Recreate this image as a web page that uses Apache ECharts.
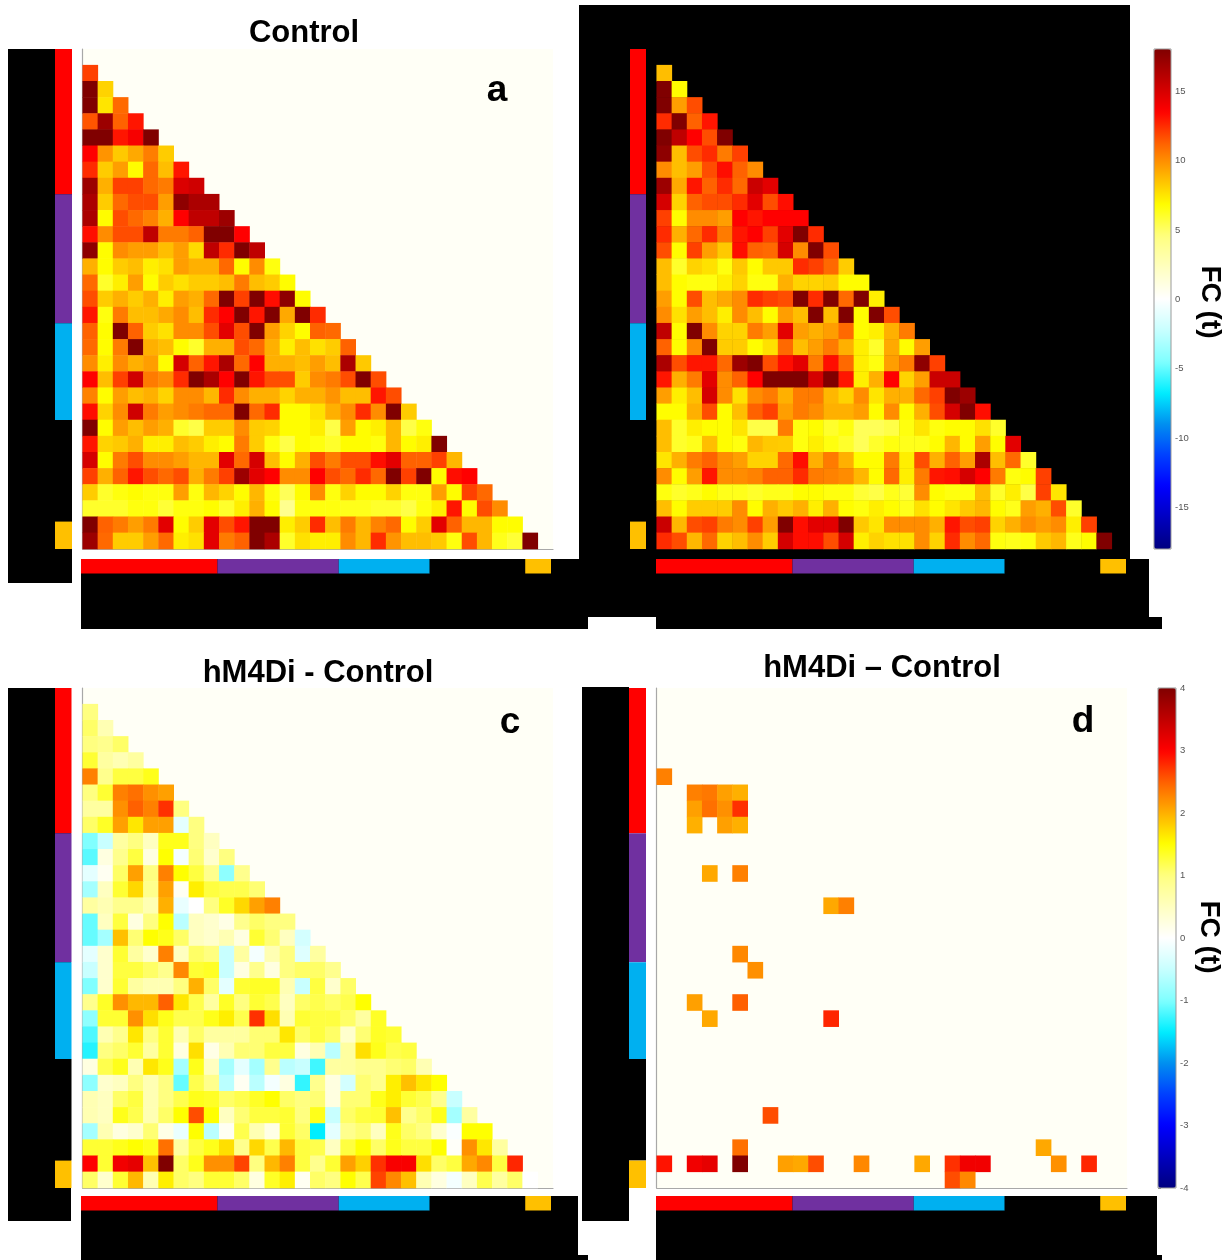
<!DOCTYPE html>
<html><head><meta charset="utf-8">
<script src="https://cdn.jsdelivr.net/npm/echarts@6/dist/echarts.min.js"></script>
<style>html,body{margin:0;padding:0;background:#fff}#c{width:1229px;height:1260px}</style>
</head><body><div id="c"></div>
<script>
// ---------- DATA ----------
// node categories (31 regions)
const nodes = ['1','2','3','4','5','6','7','8','9','10','11','12','13','14','15','16','17','18','19','20','21','22','23','24','25','26','27','28','29','30','31'];
// module labels along the matrix edge (extent of each module, in nodes, as drawn)
const moduleSizes = [9, 8, 6, 6.3, 1.7];
const moduleColors = ['#FF0000', '#7030A0', '#00B0F0', '#000000', '#FFC000'];
// colour bar ticks
const ticksTop = [-15, -10, -5, 0, 5, 10, 15];
const ticksBottom = [-4, -3, -2, -1, 0, 1, 2, 3, 4];

// Panel a (Control), lower triangle rows (row i has columns 0..i-1)
const rowsA = [
 [],
 [12],
 [18, 8],
 [18, 7.5, 11],
 [11.5, 17, 11.2, 13],
 [18, 18, 13, 13.8, 18],
 [13.5, 9.8, 8.3, 9.2, 10.4, 8.2],
 [12.5, 8.2, 9.5, 6.8, 11, 8.6, 13],
 [17, 9, 12, 12, 11, 10.5, 14.8, 15.2],
 [16.5, 8.2, 11, 11.7, 11.7, 9.5, 17.5, 16.5, 16.5],
 [16.5, 6.8, 11.7, 11, 10.3, 9, 13.5, 15.8, 15.8, 17],
 [13.2, 10, 11.7, 11.7, 15.8, 10.5, 10.5, 11.2, 18, 18, 13.5],
 [17.5, 6.8, 10, 9.5, 9.5, 8.6, 9.5, 7.8, 15.8, 12.5, 18, 15.8],
 [9, 6.8, 8.2, 8.6, 7.2, 7.6, 9.5, 9, 9, 11, 6.8, 10, 6.5],
 [11, 6, 7.2, 9.5, 6.8, 8.2, 7.6, 8.2, 8.2, 8.6, 10.5, 8.6, 8.2, 6.8],
 [11.7, 8.2, 9, 8.2, 9, 7.2, 9.5, 9, 11, 18, 12, 18, 13.2, 17.5, 6.8],
 [13, 6.5, 10.5, 8.6, 8.6, 9.2, 10, 8.6, 12.5, 13.5, 18, 13, 18, 9.2, 18, 12.5],
 [11.2, 6.8, 18, 11.2, 8.2, 7.6, 10, 10, 11.7, 14.5, 11.7, 18, 9.5, 8, 6.8, 11.2, 11],
 [11, 6.8, 10.5, 18, 9, 8.6, 6.8, 6, 9, 9, 11.7, 11, 9, 7.2, 8.6, 7.6, 8.2, 11.2],
 [10, 7.2, 10, 9, 9.5, 6.8, 15, 11.2, 13, 16.5, 11, 13.5, 9, 9, 8.6, 9.5, 8.6, 16.5, 8.3],
 [13.5, 8.6, 12, 15.2, 10.5, 10, 12.5, 18, 16.5, 13.5, 18, 13, 11.7, 11.7, 8.2, 10, 10.5, 11.7, 18, 11.7],
 [10.3, 6.8, 9.5, 8.6, 9, 8, 10, 10, 8.8, 12.5, 10, 9, 9, 8, 9, 9, 9.8, 8.6, 8.6, 13, 11.7],
 [13.2, 8, 10, 15.2, 10.5, 9.5, 10, 10.5, 11, 11, 18, 11, 12.5, 6.8, 6.8, 7.6, 9, 10, 12.5, 10, 18, 8.2],
 [18, 6.8, 9.5, 8.6, 9.5, 9, 6, 5.5, 8.2, 8.2, 10, 8.2, 8, 6.8, 6.8, 7.2, 5.5, 9.5, 6.8, 7.2, 8.8, 5.5, 6.5],
 [13, 8, 8.3, 9, 7.2, 7.2, 8.6, 8.2, 7.2, 6.8, 10.5, 8.2, 6.5, 5.5, 6.8, 6.5, 6, 6.8, 6.8, 6.5, 8.8, 6.8, 7.2, 18],
 [15, 6.8, 10.5, 11.7, 10, 10, 9.5, 8.8, 8.8, 14.5, 11, 15, 8.6, 6.8, 9, 11.7, 10.5, 11.7, 11.7, 13.2, 14.5, 11.2, 11.2, 12, 8.8],
 [12, 9, 11.2, 13, 11.7, 11, 11.7, 9, 10.5, 12, 17, 14.5, 13.5, 10, 10, 13.5, 11.7, 11, 12.5, 11, 18, 12, 18, 6.8, 13.2, 13.5],
 [8.2, 6, 6.5, 6.8, 6.5, 6.5, 9.5, 6.5, 8.8, 8, 6.8, 8.8, 6.5, 5.2, 6.8, 10, 6.5, 8, 6.8, 6.8, 8, 6.5, 6.5, 9.5, 6.8, 12, 11],
 [6, 6, 6, 6.5, 6.5, 5.8, 6.5, 6.5, 6.8, 6, 7.2, 9, 6.8, 4, 6.5, 6.5, 6.5, 6.3, 6.3, 6, 6, 5.5, 6.5, 7.2, 13, 6.8, 11.7, 10],
 [18, 11.2, 10.5, 9.5, 10.5, 14.5, 6.8, 8.2, 14.5, 11.7, 13, 18, 18, 7.2, 8.2, 12.5, 8.6, 10.5, 8.8, 10.3, 11, 6.8, 8.2, 14.5, 11.2, 8.8, 8.8, 6.8, 6.8],
 [17, 11, 8.2, 8.2, 9.5, 11, 7.2, 7.6, 14.5, 10.5, 11.2, 18, 16.5, 6, 7.6, 7.2, 7.2, 10, 8.8, 12.5, 9.8, 8.6, 8.6, 8.3, 6.5, 11.7, 8.8, 6.3, 5.8, 18]
];

// Panel b (hM4Di), lower triangle rows
const rowsB = [
 [],
 [8.6],
 [18, 6.8],
 [18, 9.5, 11.7],
 [12.5, 18, 11.2, 13],
 [18, 15.8, 13.5, 11.7, 18],
 [17.5, 8.6, 11.7, 12.5, 10.5, 12],
 [10, 8.6, 9.5, 11.7, 13.2, 11.2, 10],
 [17, 9.2, 13, 11.2, 12.5, 11, 15.4, 14.5],
 [15, 8, 11.2, 11.7, 11.7, 12.5, 14.5, 11.7, 13.2],
 [12, 6.8, 10, 10, 9.5, 13.5, 13, 13.5, 13.5, 13.5],
 [12.5, 9, 11, 12.5, 10.5, 13, 13.5, 12, 14.5, 18, 12.5],
 [11.7, 6.8, 12, 9.5, 8.3, 13.2, 11.2, 11, 15, 10, 18, 11.7],
 [8.6, 6, 8, 7.6, 6.5, 8.3, 6.8, 8.3, 8.3, 12.5, 12, 11, 8.2],
 [8.6, 6.8, 6.5, 6.5, 7.2, 8, 6.5, 6.5, 9, 8, 8, 8.2, 6.8, 6.8],
 [9.5, 6.8, 11.7, 8.6, 9.2, 10, 12.5, 12, 11.7, 18, 12.5, 18, 11, 18, 7.2],
 [10, 7.6, 9.5, 8.6, 7.2, 10, 8.6, 6.8, 9.5, 8.6, 18, 8.6, 18, 6.8, 18, 11.7],
 [15.8, 6.8, 18, 10, 8, 8, 10.5, 9.5, 14.5, 9.5, 9, 9.5, 11, 6.8, 7.2, 9, 10.5],
 [11.2, 6.8, 10, 18, 8.2, 8.2, 6.8, 7.6, 11, 8.6, 9.5, 10.5, 9, 7.2, 6, 9.2, 6.8, 9.5],
 [16.5, 11.7, 13, 13, 11, 17, 18, 11.7, 13.2, 14.5, 10.5, 13.2, 11, 7.2, 6.5, 9.5, 10.5, 17.5, 12],
 [13, 9, 10.5, 14.5, 10, 11.2, 13.5, 18, 18, 18, 15, 18, 13, 7.2, 9, 13.5, 8, 9.5, 15.4, 15.4],
 [9.5, 7.2, 8.6, 15, 10, 7.6, 10, 10.5, 9, 10.5, 10.5, 8.8, 8, 10, 7.5, 9, 9, 11, 12, 18, 17],
 [6.8, 6.8, 9, 11.7, 6.8, 8.6, 11.2, 12, 9.5, 10.5, 10, 9, 9, 9.5, 6.8, 10, 6.8, 9, 11.7, 15, 18, 13.2],
 [8.6, 6, 7.2, 6.8, 6.8, 7.5, 5.5, 5.5, 10.5, 6.5, 6.8, 6, 6.5, 5.2, 5.2, 5.5, 6.5, 7.5, 6.5, 6.8, 6.8, 7.6, 6],
 [8.6, 6, 6.3, 8.6, 6.8, 6.5, 8.8, 8.3, 8.2, 6.5, 7.2, 6.5, 6, 5.2, 6, 6.5, 6.3, 6.3, 6.8, 8.8, 6.8, 9.5, 6.8, 14.5],
 [7.5, 9, 10.5, 11.2, 10, 9.5, 8, 8, 11, 13.2, 9, 10.5, 9, 6.8, 6.8, 10.5, 7.2, 11.7, 9, 11.2, 9.5, 16.5, 8.6, 11, 6],
 [10, 6.8, 9.5, 13, 10, 10, 10.3, 11.2, 11.2, 12.5, 10.5, 10.3, 10, 8.8, 6.8, 11, 7.2, 10.5, 13, 13.2, 15, 13.5, 10.5, 6.5, 6.8, 12],
 [6.5, 6, 6.3, 6.8, 6.3, 6.3, 6, 6.3, 6.3, 6.8, 6.8, 6.5, 6.5, 5.8, 5.5, 6.3, 5.8, 10, 6.8, 6.5, 6.5, 8.6, 6, 7.2, 5.5, 12, 7.5],
 [8.6, 6.8, 8.2, 8.2, 8.2, 10, 6.8, 9, 8.3, 9, 7.2, 9, 6.8, 6.5, 7.2, 6.8, 6.3, 7.6, 6.8, 7.5, 8.3, 8.8, 6.8, 6.3, 9.5, 9, 11.7, 6],
 [15.4, 8.8, 11.7, 12, 10.5, 10, 12, 9.5, 18, 13.2, 14.5, 14.5, 18, 8.3, 7.5, 10, 10, 10, 9, 13, 11.7, 12, 8, 9, 10, 9.5, 10, 7.2, 12],
 [12.5, 11.7, 8.8, 11, 8, 8.6, 10, 8.2, 15, 13.2, 13.2, 11.7, 15, 7.2, 8, 7.6, 7.6, 10, 8, 12.5, 10, 11, 6.5, 6.3, 6.5, 8.3, 8.8, 6.3, 6.8, 18]
];

// Panel c (hM4Di - Control difference), lower triangle rows
const rowsC = [
 [],
 [1.0],
 [1.1, 0.6],
 [1.0, 0.9, 1.1],
 [1.3, 0.75, 0.6, 0.75],
 [2.3, 0.9, 1.25, 1.25, 1.4],
 [1.0, 1.3, 2.3, 2.4, 2.2, 2.1],
 [0.75, 0.75, 2.2, 2.5, 2.3, 2.75, 1.0],
 [1.1, 1.35, 2.1, 1.65, 2.1, 2.1, -0.25, 1.0],
 [-1.0, -0.5, 0.75, 1.0, 0.5, 1.4, 1.4, 1.0, 0.5],
 [-1.15, 0.25, 0.9, 1.25, 0.25, 1.5, -0.1, 1.05, 0.4, 1.0],
 [-0.25, 0.1, 1.1, 2.1, 1.0, 2.3, 1.5, 1.25, 0.9, -0.9, 0.9],
 [-0.75, 0.5, 1.3, 1.75, 0.9, 2.1, 0.1, 1.6, 1.25, 1.2, 1.2, 1.05],
 [0.75, 0.6, 0.9, 0.9, 0.6, 2.0, -0.2, 0, 1.0, 1.35, 1.75, 2.1, 2.3],
 [-1.1, 0.5, 1.25, 0.25, 1.0, 1.5, -0.6, 0.5, 0.4, 0.2, 0.9, 1.1, 1.0, 1.0],
 [-1.1, -0.75, 1.9, 1.05, 1.5, 1.4, 1.1, 0.5, 0.4, 0.6, 0.25, 1.3, 1.05, 0.5, -0.4],
 [-0.25, 0.4, 1.3, 0.75, 0.4, 2.3, 0.5, 1.1, 1.0, -0.5, 0.75, -0.1, 0.6, 1.0, -0.3, 0.75],
 [-0.5, 0.4, 1.25, 1.25, 1.1, 0.9, 2.25, 1.3, 1.35, -0.5, 0.25, 0.9, 0.25, 1.0, 1.1, 1.1, 0.9],
 [-1.0, 0.4, 1.3, 0.75, 0.6, 0.6, 1.0, 2.0, 1.1, -0.25, 1.3, 1.35, 1.35, 0.6, -0.5, 1.25, 0.4, 1.1],
 [0.9, 1.35, 2.2, 1.95, 1.95, 2.5, 1.65, 1.2, 0.75, 1.35, 1.0, 1.3, 1.2, 0.5, 1.1, 1.2, 1.1, 1.2, 1.5],
 [-0.9, 1.3, 1.3, 2.2, 1.7, 1.4, 1.2, 1.2, 1.4, 1.6, 1.2, 2.75, 1.7, 0.6, 1.3, 1.25, 1.25, 1.1, 0.75, 1.35],
 [-1.2, 0.6, 0.9, 1.65, 1.0, 1.3, 0.6, 1.1, 0.75, 0.75, 0.75, 1.05, 1.05, 1.65, 1.1, 1.25, 1.1, 0.4, 1.05, 1.35, 1.3],
 [-1.35, 1.0, 1.1, 1.3, 0.75, 1.3, 0.25, 1.7, 0.2, 0.6, 1.05, 1.05, 1.25, 1.25, 0.25, 0.6, -0.6, 0.75, 1.7, 1.4, 1.2, 1.25],
 [0.25, 1.2, 1.4, 0.6, 1.65, 1.4, -0.75, 1.4, 0.5, -0.75, -0.25, -0.75, 0.9, -0.6, -0.5, -1.25, 0.75, 0.75, 0.9, 0.9, 1.05, 1.1, 0.6],
 [-0.9, 0.4, 0.5, 1.0, 0.6, 1.0, -1.1, 1.2, 0.9, -0.6, 0.1, -0.6, -0.1, 0.25, -1.3, 0.9, 0.25, -0.4, 1.05, 0.9, 1.6, 1.9, 1.65, 1.5],
 [0.6, 0.5, 1.1, 1.25, 0.6, 1.0, 1.2, 1.4, 1.35, 1.1, 1.2, 1.35, 1.5, 1.1, 1.0, 1.05, 0.25, 1.05, 1.05, 1.4, 1.6, 1.3, 1.2, 0.9, -0.5],
 [0.6, 0.5, 1.4, 1.2, 0.6, 1.1, 1.5, 2.6, 1.5, 0.5, 1.05, 1.25, 1.25, 1.3, 1.0, 1.4, -0.5, 1.1, 1.25, 1.3, 1.9, 0.9, 1.1, 1.4, -0.75, 0.75],
 [-0.75, 0.6, 0.25, 0.4, 1.05, 0.2, -0.2, 1.5, -0.6, 0.1, 1.2, 0.6, 0.2, 1.3, 1.1, -1.5, -0.25, 0.9, 1.05, 0.5, 1.4, 1.1, 1.0, 0.4, -0.05, 1.5, 1.5],
 [1.3, 1.3, 1.4, 1.5, 1.4, 2.4, 0.75, 1.25, 1.4, 1.7, 0.9, 1.75, 1.2, 1.95, 1.25, 1.2, 0.5, 1.25, 1.5, 1.1, 1.4, 1.25, 1.25, 1.5, 0.05, 2.2, 1.65, 0.75],
 [3.0, 1.3, 3.1, 3.2, 1.9, 4.0, 1.1, 1.4, 2.2, 2.2, 2.65, 1.0, 1.95, 2.3, 1.25, 0.9, 1.3, 2.1, 1.8, 2.75, 3.05, 3.05, 1.7, 1.1, 1.25, 2.05, 2.25, 1.25, 2.8],
 [1.1, 0.4, 1.3, 1.95, 0.6, 1.6, 1.1, 1.0, 1.3, 1.3, 1.1, 0.25, 1.35, 1.6, 0.1, 1.1, 1.0, 1.5, 1.2, 2.65, 2.25, 1.9, 0.6, 0.25, -0.1, 0.5, 1.2, 0.75, 1.1, 0]
];

// Panel d (significant differences only): [row, col, t]
const sigD = [
 [5,0,2.3],[6,2,2.3],[6,3,2.35],[6,4,2.1],[6,5,2.0],[7,2,2.1],[7,3,2.4],[7,4,2.2],[7,5,2.75],
 [8,2,2.0],[8,4,2.1],[8,5,2.0],[11,3,2.05],[11,5,2.3],[13,11,2.05],[13,12,2.3],[16,5,2.25],
 [17,6,2.2],[19,2,2.1],[19,5,2.5],[20,3,2.05],[20,11,2.8],[26,7,2.6],[28,5,2.4],[28,25,2.05],
 [29,0,2.9],[29,2,3.1],[29,3,3.2],[29,5,4.0],[29,8,2.1],[29,9,2.05],[29,10,2.6],[29,13,2.25],
 [29,17,2.05],[29,19,2.75],[29,20,3.1],[29,21,3.1],[29,26,2.2],[29,28,2.8],[30,19,2.6],[30,20,2.25]
];

// colour map (cold-hot)
const fcColors = ['#000080','#0000C0','#0000FF','#0040FF','#0090F0','#00EEFF','#80FFFF','#C8FFFF','#FFFFFF',
                  '#FFFFC0','#FFFF80','#FFFF00','#FFB000','#FF6000','#FF0000','#C00000','#800000'];

// ---------- BUILD ----------
function toCells(rows) {
  const out = [];
  rows.forEach((r, i) => r.forEach((v, j) => out.push([j, i, v])));
  return out;
}
const cellsD = sigD.map(d => [d[1], d[0], d[2]]);

const panels = [
  { left: 82.7, top: 49, bg: '#FFFFF6', axis: true, sL: 55, sLW: 17, sBL: 81, sBT: 559, data: toCells(rowsA) },
  { left: 656.7, top: 49, bg: '#000000', axis: false, sL: 630, sLW: 16, sBL: 656, sBT: 559, data: toCells(rowsB) },
  { left: 82.7, top: 688, bg: '#FFFFF6', axis: true, sL: 55, sLW: 16.5, sBL: 81, sBT: 1196, data: toCells(rowsC) },
  { left: 656.7, top: 688, bg: '#FFFFF6', axis: true, sL: 629, sLW: 17, sBL: 656, sBT: 1196, data: cellsD }
];
const PW = 470.3, PH = 500;

const grid = [], xAxis = [], yAxis = [], series = [];
const hidden = { show: false };
panels.forEach((p, k) => {
  const g0 = grid.length;
  grid.push({ left: p.left, top: p.top, width: PW, height: PH, show: true, backgroundColor: p.bg, borderWidth: 0 });
  grid.push({ left: p.sL, top: p.top, width: p.sLW, height: PH });
  grid.push({ left: p.sBL, top: p.sBT, width: 470, height: 14.5 });
  const axLine = { show: p.axis, lineStyle: { color: '#A8A8A8', width: 1.2 } };
  xAxis.push({ type: 'category', gridIndex: g0, data: nodes, axisLine: axLine, axisTick: hidden, axisLabel: hidden, splitLine: hidden });
  yAxis.push({ type: 'category', gridIndex: g0, data: nodes, inverse: true, axisLine: axLine, axisTick: hidden, axisLabel: hidden, splitLine: hidden });
  xAxis.push({ type: 'category', gridIndex: g0 + 1, data: ['m'], show: false });
  yAxis.push({ type: 'value', gridIndex: g0 + 1, min: 0, max: 31, inverse: true, show: false });
  xAxis.push({ type: 'value', gridIndex: g0 + 2, min: 0, max: 31, show: false });
  yAxis.push({ type: 'category', gridIndex: g0 + 2, data: ['m'], show: false });
});
// colour bar tick axes
const cbAxes = [
  { left: 1154, top: 91.3, width: 17, height: 416.2, min: ticksTop[0], max: ticksTop[ticksTop.length - 1], interval: 5 },
  { left: 1158, top: 688, width: 18, height: 500, min: ticksBottom[0], max: ticksBottom[ticksBottom.length - 1], interval: 1 }
];
cbAxes.forEach(c => {
  const gi = grid.length;
  grid.push({ left: c.left, top: c.top, width: c.width, height: c.height });
  xAxis.push({ type: 'value', gridIndex: gi, show: false, min: 0, max: 1 });
  yAxis.push({ type: 'value', gridIndex: gi, min: c.min, max: c.max, interval: c.interval, position: 'right',
    axisLine: hidden, splitLine: hidden,
    axisTick: { show: true, length: 3, lineStyle: { color: '#888', width: 1 } },
    axisLabel: { show: true, fontSize: 9.5, color: '#555', margin: 4, fontFamily: 'Liberation Sans, Arial, sans-serif' } });
  series.push({ type: 'scatter', xAxisIndex: xAxis.length - 1, yAxisIndex: yAxis.length - 1, data: [], silent: true });
});

const heatSeries = panels.map((p, k) => ({
  type: 'heatmap', xAxisIndex: k * 3, yAxisIndex: k * 3, data: p.data,
  itemStyle: { borderWidth: 0 }, emphasis: { disabled: true }, silent: true, progressive: 0
}));
const stripSeries = [];
panels.forEach((p, k) => {
  moduleSizes.forEach((n, m) => {
    stripSeries.push({ type: 'bar', xAxisIndex: k * 3 + 1, yAxisIndex: k * 3 + 1, stack: 'L' + k, barWidth: '100%',
      data: [n], itemStyle: { color: moduleColors[m] }, silent: true });
    stripSeries.push({ type: 'bar', xAxisIndex: k * 3 + 2, yAxisIndex: k * 3 + 2, stack: 'B' + k, barWidth: '100%',
      data: [n], itemStyle: { color: moduleColors[m] }, silent: true });
  });
});
const allSeries = heatSeries.concat(stripSeries, series);

// black masks
const blacks = [
  [8, 49, 64, 534], [81, 559, 507, 70],
  [579, 5, 551, 554], [579, 559, 570, 58], [656, 617, 506, 12],
  [8, 688, 63, 533], [81, 1196, 497, 59], [81, 1255, 507, 5],
  [582, 687, 47, 534], [656, 1196, 501, 59], [656, 1255, 506, 5]
];
const font = 'Liberation Sans, Arial, Helvetica, sans-serif';
const graphics = blacks.map(b => ({ type: 'rect', z: 0, silent: true, shape: { x: b[0], y: b[1], width: b[2], height: b[3] }, style: { fill: '#000' } }));
function txt(t, x, y, size, rot) {
  return { type: 'text', z: 100, x: x, y: y, rotation: rot || 0, silent: true,
    style: { text: t, fontSize: size, fontWeight: 'bold', fontFamily: font, fill: '#000', align: 'center', verticalAlign: 'middle' } };
}
graphics.push(txt('Control', 304, 33, 31));
graphics.push(txt('a', 497, 91, 37));
graphics.push(txt('hM4Di - Control', 318, 673, 31));
graphics.push(txt('c', 510, 723, 37));
graphics.push(txt('hM4Di \u2013 Control', 882, 668, 31));
graphics.push(txt('d', 1083, 722, 37));
graphics.push(txt('FC (t)', 1210, 302, 28, -Math.PI / 2));
graphics.push(txt('FC (t)', 1209, 937, 28, -Math.PI / 2));
graphics.push({ type: 'rect', z: 100, silent: true, shape: { x: 1154, y: 49, width: 17, height: 500 }, style: { fill: 'none', stroke: '#999', lineWidth: 1 } });
graphics.push({ type: 'rect', z: 100, silent: true, shape: { x: 1158, y: 688, width: 18, height: 500 }, style: { fill: 'none', stroke: '#999', lineWidth: 1 } });

const chart = echarts.init(document.getElementById('c'), null, { renderer: 'canvas' });
chart.setOption({
  animation: false,
  backgroundColor: '#ffffff',
  grid: grid, xAxis: xAxis, yAxis: yAxis,
  visualMap: [
    { type: 'continuous', min: -18, max: 18, seriesIndex: [0, 1], left: 1154, top: 49, itemWidth: 17, itemHeight: 500,
      padding: 0, calculable: false, orient: 'vertical', inRange: { color: fcColors } },
    { type: 'continuous', min: -4, max: 4, seriesIndex: [2, 3], left: 1158, top: 688, itemWidth: 18, itemHeight: 500,
      padding: 0, calculable: false, orient: 'vertical', inRange: { color: fcColors } }
  ],
  graphic: graphics,
  series: allSeries
});
</script></body></html>
